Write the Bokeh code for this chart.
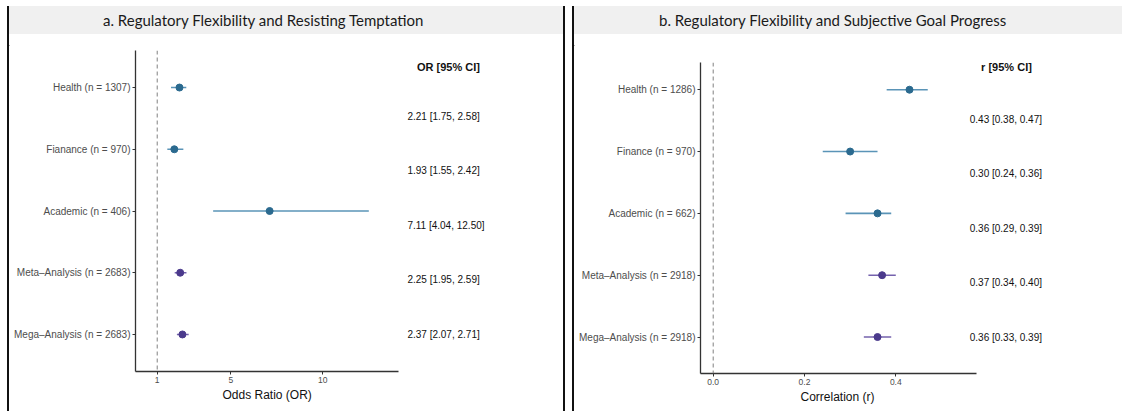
from bokeh.plotting import figure
from bokeh.models import (ColumnDataSource, LabelSet, Span, FixedTicker, Range1d,
                          Div, Spacer, Title)
from bokeh.layouts import row, column
from bokeh.core.properties import value
from bokeh.embed import file_html
from bokeh.resources import INLINE

# ---- data -------------------------------------------------------------
labels_a = ["Health (n = 1307)", "Fianance (n = 970)", "Academic (n = 406)",
            "Meta–Analysis (n = 2683)", "Mega–Analysis (n = 2683)"]
or_est = [2.21, 1.93, 7.11, 2.25, 2.37]
or_lo = [1.75, 1.55, 4.04, 1.95, 2.07]
or_hi = [2.58, 2.42, 12.50, 2.59, 2.71]

labels_b = ["Health (n = 1286)", "Finance (n = 970)", "Academic (n = 662)",
            "Meta–Analysis (n = 2918)", "Mega–Analysis (n = 2918)"]
r_est = [0.43, 0.30, 0.36, 0.37, 0.36]
r_lo = [0.38, 0.24, 0.29, 0.34, 0.33]
r_hi = [0.47, 0.36, 0.39, 0.40, 0.39]

kind = ["domain", "domain", "domain", "pooled", "pooled"]

x_ticks_a = [1, 5, 10]
x_ticks_b = [0.0, 0.2, 0.4]
x_tick_labels_b = ["0.0", "0.2", "0.4"]

# ---- style ------------------------------------------------------------
POINT = {"domain": "#2b6a8f", "pooled": "#4b3a8c"}
WHISK = {"domain": "#5a94b7", "pooled": "#7562ad"}
FONT = "Liberation Sans"
TITLE_FONT = "Lato"


def forest(labels, est, lo, hi, null_value, x_start, axis_end, px_per_unit,
           y_start, y_end, x_ticks, x_tick_labels, x_title, x_title_offset,
           header, text_x, header_x, header_y, text_step,
           width, height, bl, bt, bb, digits=2):
    n = len(labels)
    ypos = [n - i for i in range(n)]
    txt_y = [1 + (n - 1 - i) * text_step for i in range(n)]
    texts = [f"{e:.{digits}f} [{l:.{digits}f}, {h:.{digits}f}]"
             for e, l, h in zip(est, lo, hi)]
    src = ColumnDataSource(dict(
        y=ypos, est=est, lo=lo, hi=hi, ty=txt_y, txt=texts,
        pc=[POINT[k] for k in kind], wc=[WHISK[k] for k in kind]))

    # the frame runs to the right edge so the estimate column fits inside it;
    # the x axis itself is bounded to the plotted region
    x_end = x_start + (width - bl) / px_per_unit
    p = figure(width=width, height=height, output_backend="svg",
               toolbar_location=None,
               x_range=Range1d(x_start, x_end), y_range=Range1d(y_start, y_end),
               min_border_left=bl, min_border_right=0,
               min_border_top=bt, min_border_bottom=bb)
    p.outline_line_color = None
    p.grid.visible = False
    p.background_fill_color = "white"
    p.border_fill_color = "white"

    p.add_layout(Span(location=null_value, dimension="height",
                      line_color="#808080", line_dash="4 3", line_width=1))

    p.segment(x0="lo", x1="hi", y0="y", y1="y", source=src,
              line_color="wc", line_width=1.6)
    p.scatter(x="est", y="y", source=src, size=7, fill_color="pc",
              line_color="pc")

    p.add_layout(LabelSet(x=text_x, y="ty", text="txt", source=src,
                          text_font=value(FONT), text_font_size="10px",
                          text_color="#111111", text_baseline="middle",
                          text_align="left"))
    hsrc = ColumnDataSource(dict(x=[header_x], y=[header_y], t=[header]))
    p.add_layout(LabelSet(x="x", y="y", text="t", source=hsrc,
                          text_font=value(FONT), text_font_size="11px",
                          text_font_style="bold", text_color="#111111",
                          text_baseline="middle", text_align="center"))

    xa = p.xaxis[0]
    xa.bounds = (x_start, axis_end)
    xa.ticker = FixedTicker(ticks=x_ticks)
    xa.major_label_overrides = {t: s for t, s in zip(x_ticks, x_tick_labels)}
    xa.minor_tick_line_color = None
    xa.major_tick_out = 3
    xa.major_tick_in = 0
    xa.major_label_standoff = 2
    xa.major_label_text_font = FONT
    xa.major_label_text_font_size = "8.5px"
    xa.major_label_text_color = "#4d4d4d"
    xa.axis_line_color = "#333333"
    xa.axis_line_width = 1.3
    xa.major_tick_line_color = "#333333"

    # axis title centred under the bounded axis
    p.add_layout(Title(text=x_title, align="left", offset=x_title_offset,
                       text_font=FONT, text_font_size="12px",
                       text_font_style="normal", text_color="#111111",
                       standoff=0), "below")

    ya = p.yaxis[0]
    ya.ticker = FixedTicker(ticks=ypos)
    ya.major_label_overrides = {y: s for y, s in zip(ypos, labels)}
    ya.minor_tick_line_color = None
    ya.major_tick_out = 3
    ya.major_tick_in = 0
    ya.major_label_standoff = 2
    ya.major_label_text_font = FONT
    ya.major_label_text_font_size = "10px"
    ya.major_label_text_color = "#4d4d4d"
    ya.axis_line_color = "#333333"
    ya.axis_line_width = 1.3
    ya.major_tick_line_color = "#333333"
    return p


fig_a = forest(labels_a, or_est, or_lo, or_hi, 1, -0.18, 14.11, 18.4,
               0.40, 5.60, x_ticks_a, [str(t) for t in x_ticks_a],
               "Odds Ratio (OR)", 87, "OR [95% CI]", 14.60, 16.83, 5.33, 0.884,
               554, 376, 126, 15, 40)

fig_b = forest(labels_b, r_est, r_lo, r_hi, 0, -0.0278, 0.5768, 456.5,
               0.41, 5.44, x_ticks_b, x_tick_labels_b,
               "Correlation (r)", 100, "r [95% CI]", 0.562, 0.6425, 5.36, 0.88,
               548, 376, 126, 27, 38)


def block(w, h, color):
    return Div(width=w, height=h, margin=0,
               text=f'<div style="width:{w}px;height:{h}px;background:{color}"></div>')


def strip(w, text, pad):
    return Div(width=w, height=28, margin=0, text=(
        f'<div style="width:{w}px;height:28px;background:#f0f0f0;'
        f'font-family:{TITLE_FONT};font-size:15px;color:#1a1a1a;'
        f'line-height:28px;padding-left:{pad}px;box-sizing:border-box;'
        f'white-space:nowrap">{text}</div>'))


panel_a = column(
    block(558, 2, "#111111"),
    row(block(2, 405, "#111111"),
        column(strip(554, "a. Regulatory Flexibility and Resisting Temptation", 94),
               block(554, 1, "#9a9a9a"), fig_a),
        block(2, 405, "#111111")))

panel_b = column(
    block(550, 2, "#111111"),
    row(block(2, 405, "#111111"),
        column(strip(548, "b. Regulatory Flexibility and Subjective Goal Progress", 85),
               block(548, 1, "#9a9a9a"), fig_b)))

root = column(Spacer(height=4, width=1122, margin=0),
              row(Spacer(width=7, height=407, margin=0), panel_a,
                  Spacer(width=7, height=407, margin=0), panel_b))

open("out.html", "w").write(file_html(root, INLINE))
